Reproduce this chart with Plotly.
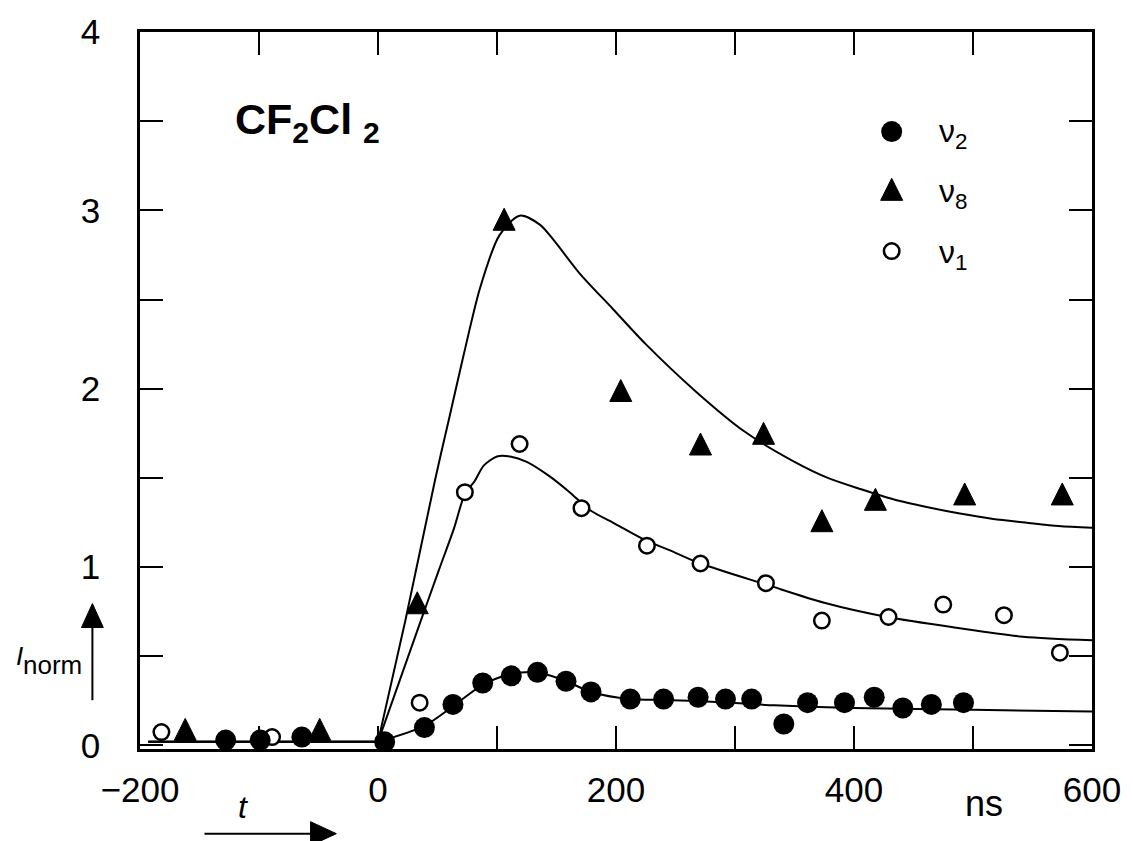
import plotly.graph_objects as go

# ---------------- data ----------------
t_nu2 = [-128, -99, -64, 5.6, 39, 63, 88, 112, 134, 158, 179, 212, 240, 269, 292, 314,
         341, 361, 392, 417, 441, 465, 492]
i_nu2 = [0.03, 0.03, 0.047, 0.02, 0.10, 0.23, 0.35, 0.39, 0.41, 0.36, 0.30, 0.26, 0.26,
         0.27, 0.26, 0.26, 0.12, 0.24, 0.24, 0.27, 0.21, 0.23, 0.24]

t_nu8 = [-162, -49, 33, 106, 204, 271, 324, 373, 418, 493, 575]
i_nu8 = [0.09, 0.09, 0.80, 2.95, 1.99, 1.69, 1.75, 1.26, 1.38, 1.41, 1.41]

t_nu1 = [-182, -89, 35, 73, 119, 171, 226, 271, 326, 373, 429, 475, 526, 573]
i_nu1 = [0.075, 0.047, 0.24, 1.42, 1.69, 1.33, 1.12, 1.02, 0.91, 0.70, 0.72, 0.79, 0.73, 0.52]

# fitted curves (first point = start of the pre-trigger baseline)
fit_t_nu8 = [-193, 0, 23, 48, 60, 72, 86, 102, 119, 136, 148, 169, 197, 225, 267, 308,
             350, 378, 406, 433, 461, 489, 517, 544, 572, 600]
fit_i_nu8 = [0.02, 0.02, 0.70, 1.49, 1.84, 2.19, 2.57, 2.86, 2.97, 2.92, 2.83, 2.65, 2.45,
             2.25, 1.985, 1.76, 1.59, 1.50, 1.436, 1.38, 1.337, 1.30, 1.27, 1.25, 1.23, 1.22]

fit_t_nu1 = [-193, 0, 36, 51, 64, 73, 81, 89, 100, 111, 125, 144, 161, 178, 200, 222, 250,
             271, 327, 375, 428, 486, 542, 600]
fit_i_nu1 = [0.02, 0.02, 0.70, 0.98, 1.22, 1.41, 1.48, 1.57, 1.62, 1.62, 1.59, 1.51, 1.42,
             1.32, 1.24, 1.16, 1.08, 1.02, 0.90, 0.80, 0.72, 0.66, 0.61, 0.59]

fit_t_nu2 = [-193, 0, 39, 63, 88, 112, 134, 158, 179, 212, 240, 280, 333, 400, 500, 600]
fit_i_nu2 = [0.02, 0.02, 0.11, 0.22, 0.34, 0.40, 0.41, 0.36, 0.30, 0.26, 0.255, 0.245,
             0.225, 0.21, 0.20, 0.19]

legend_labels = ["\u03bd<sub>2</sub>", "\u03bd<sub>8</sub>", "\u03bd<sub>1</sub>"]

# ---------------- styles / geometry ----------------
FONT = "Liberation Sans, Arial, Helvetica, sans-serif"
BLACK = "black"
W, H = 1133, 841
ML, MR, MT, MB = 140, 33, 29, 92
PW, PH = W - ML - MR, H - MT - MB


def px2x(px):
    return (px - ML) / PW


def py2y(py):
    return (H - MB - py) / PH


TRI_SIZE = 22
filled_circle = dict(symbol="circle", size=21, color=BLACK, line=dict(width=0))
triangle = dict(symbol="arrow-down", angle=180, standoff=TRI_SIZE / 2, size=TRI_SIZE,
                color=BLACK, line=dict(color=BLACK, width=1))
open_circle = dict(symbol="circle", size=15.5, color="white", line=dict(color=BLACK, width=2.5))

fig = go.Figure()

# fitted curves: straight baseline, then smooth curve
for ft, fi in [(fit_t_nu8, fit_i_nu8), (fit_t_nu1, fit_i_nu1), (fit_t_nu2, fit_i_nu2)]:
    fig.add_trace(go.Scatter(x=ft[:2], y=fi[:2], mode="lines",
                             line=dict(color=BLACK, width=2), showlegend=False,
                             hoverinfo="skip"))
    fig.add_trace(go.Scatter(x=ft[1:], y=fi[1:], mode="lines",
                             line=dict(color=BLACK, width=2, shape="spline", smoothing=0.8),
                             showlegend=False, hoverinfo="skip"))

fig.add_trace(go.Scatter(x=t_nu1, y=i_nu1, mode="markers", marker=open_circle,
                         name="\u03bd1", showlegend=False))
fig.add_trace(go.Scatter(x=t_nu8, y=i_nu8, mode="markers", marker=triangle,
                         name="\u03bd8", showlegend=False))
fig.add_trace(go.Scatter(x=t_nu2, y=i_nu2, mode="markers", marker=filled_circle,
                         name="\u03bd2", showlegend=False))

# hand-made legend on an overlay (0..1) coordinate system
leg_x = px2x(898)
leg_rows = [py2y(129), py2y(187), py2y(249)]
for yy, mk in zip(leg_rows, [filled_circle, triangle, open_circle]):
    fig.add_trace(go.Scatter(x=[leg_x], y=[yy], mode="markers", marker=mk,
                             xaxis="x2", yaxis="y2", showlegend=False, hoverinfo="skip"))
label_rows = [py2y(131), py2y(191), py2y(252)]
for yy, lab in zip(label_rows, legend_labels):
    fig.add_annotation(x=px2x(944), y=yy, xref="paper", yref="paper", text=lab,
                       showarrow=False, xanchor="left", yanchor="middle",
                       font=dict(family=FONT, size=32, color=BLACK))

axis_common = dict(showline=True, linecolor=BLACK, linewidth=2.5, mirror="ticks",
                   ticks="inside", ticklen=23, tickwidth=2, tickcolor=BLACK,
                   showgrid=False, zeroline=False,
                   tickfont=dict(family=FONT, size=35, color=BLACK))
minor_common = dict(ticks="inside", ticklen=23, tickwidth=2, tickcolor=BLACK, showgrid=False)

fig.update_layout(
    width=W, height=H,
    margin=dict(l=ML, r=MR, t=MT, b=MB),
    paper_bgcolor="white", plot_bgcolor="white",
    showlegend=False,
    xaxis=dict(range=[-200, 600], tickmode="linear", tick0=-200, dtick=200,
               minor=dict(tick0=-200, dtick=100, **minor_common),
               ticklabelstandoff=8, **axis_common),
    yaxis=dict(range=[-0.02, 4.0], tickmode="linear", tick0=0, dtick=1,
               minor=dict(tick0=0, dtick=0.5, **minor_common),
               ticklabelstandoff=30, **axis_common),
    xaxis2=dict(overlaying="x", range=[0, 1], visible=False),
    yaxis2=dict(overlaying="y", range=[0, 1], visible=False),
)

# compound label
fig.add_annotation(x=px2x(234), y=py2y(119), xref="paper", yref="paper",
                   text="<b>CF<sub>2</sub>Cl<sub>\u00a0\u200a2</sub></b>", showarrow=False,
                   xanchor="left", yanchor="middle",
                   font=dict(family=FONT, size=43, color=BLACK))

# y-axis label I_norm
fig.add_annotation(x=px2x(18), y=py2y(656), xref="paper", yref="paper", text="<i>I</i>",
                   showarrow=False, xanchor="center", yanchor="middle",
                   font=dict(family=FONT, size=26, color=BLACK))
fig.add_annotation(x=px2x(20), y=py2y(665), xref="paper", yref="paper", text="norm",
                   showarrow=False, xanchor="left", yanchor="middle",
                   font=dict(family=FONT, size=26, color=BLACK))

# x-axis label t and unit "ns"
fig.add_annotation(x=px2x(244), y=py2y(807), xref="paper", yref="paper", text="<i>t</i>",
                   showarrow=False, xanchor="center", yanchor="middle",
                   font=dict(family=FONT, size=32, color=BLACK))
fig.add_annotation(x=px2x(991), y=py2y(804), xref="paper", yref="paper", text="ns",
                   showarrow=False, xanchor="center", yanchor="middle",
                   font=dict(family=FONT, size=36, color=BLACK))

# arrows drawn as shapes (paper coordinates)
line_style = dict(color=BLACK, width=2)
# upward arrow next to I_norm
fig.add_shape(type="line", xref="paper", yref="paper",
              x0=px2x(92), y0=py2y(700), x1=px2x(92), y1=py2y(620), line=line_style)
fig.add_shape(type="path", xref="paper", yref="paper",
              path=f"M {px2x(92)},{py2y(603)} L {px2x(81)},{py2y(627)} "
                   f"L {px2x(103)},{py2y(627)} Z",
              fillcolor=BLACK, line=dict(color=BLACK, width=1))
# rightward arrow under t
fig.add_shape(type="line", xref="paper", yref="paper",
              x0=px2x(205), y0=py2y(834), x1=px2x(320), y1=py2y(834), line=line_style)
fig.add_shape(type="path", xref="paper", yref="paper",
              path=f"M {px2x(338)},{py2y(834)} L {px2x(312)},{py2y(822)} "
                   f"L {px2x(312)},{py2y(846)} Z",
              fillcolor=BLACK, line=dict(color=BLACK, width=1))

fig.write_html("out.html")
